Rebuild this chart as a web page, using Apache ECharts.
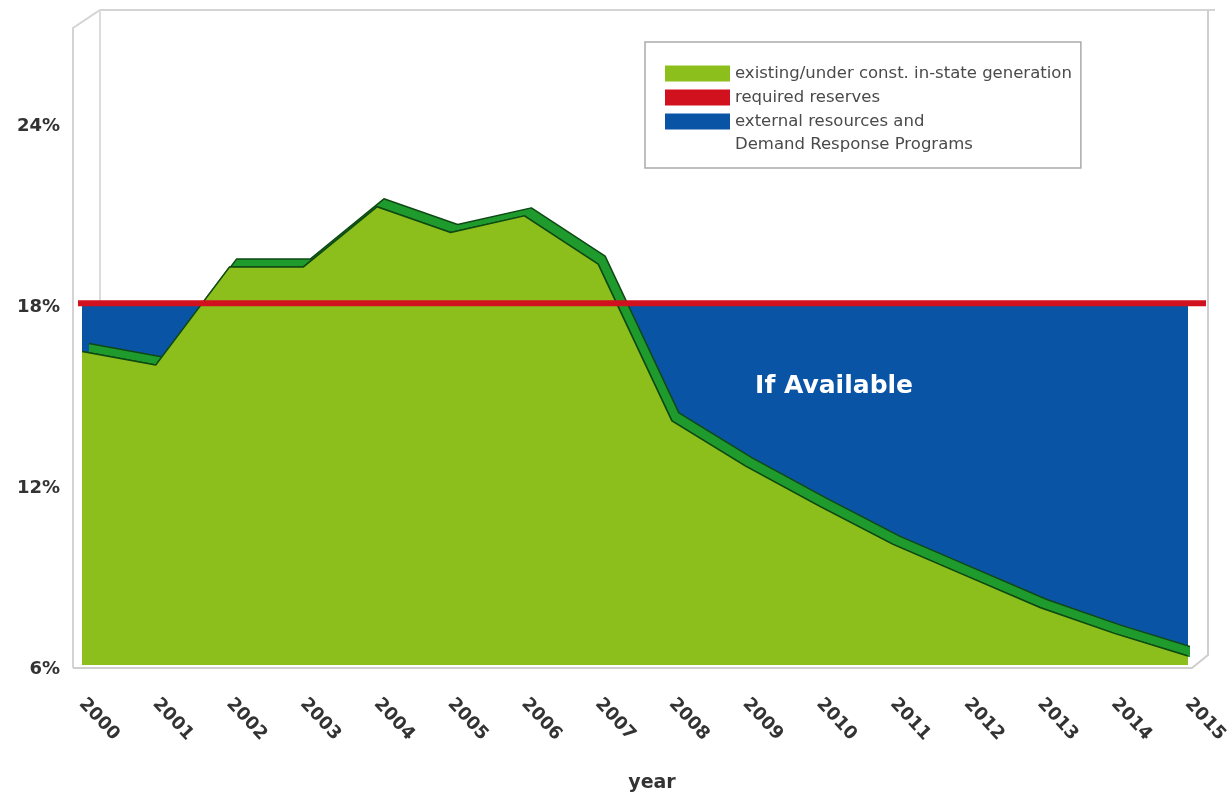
<!DOCTYPE html>
<html>
<head>
<meta charset="utf-8">
<title>Reserve margin outlook</title>
<script src="https://cdn.jsdelivr.net/npm/echarts@6/dist/echarts.min.js"></script>
<style>
  html, body { margin: 0; padding: 0; background: #ffffff; }
  #chart { width: 1232px; height: 796px; }
</style>
</head>
<body>
<div id="chart"></div>
<script>
// Years on the horizontal axis
const years = [2000, 2001, 2002, 2003, 2004, 2005, 2006, 2007, 2008, 2009, 2010, 2011, 2012, 2013, 2014, 2015];
// Existing / under construction in-state generation, reserve margin in %
const generation = [16.4, 15.95, 19.2, 19.2, 21.2, 20.35, 20.9, 19.3, 14.1, 12.6, 11.27, 10.0, 8.95, 7.9, 7.05, 6.3];
// Required reserve margin, %
const reserves = [18, 18, 18, 18, 18, 18, 18, 18, 18, 18, 18, 18, 18, 18, 18, 18];
// Y-axis ticks
const yTicks = [6, 12, 18, 24];

const NAME_GEN = 'existing/under const. in-state generation';
const NAME_RES = 'required reserves';
const NAME_EXT = 'external resources and Demand Response Programs';
const EXT_LINES = ['external resources and', 'Demand Response Programs'];

const FONT = 'DejaVu Sans';
const GREEN = '#8cbf1b';
const GREEN_TOP = '#1f9a2d';
const GREEN_EDGE = '#0f4a14';
const BLUE = '#0a54a6';
const RED = '#d2111f';
const LEGEND_TEXT = '#4a4a4a';
const AXIS_TEXT = '#333333';

const pairs = (vals) => years.map((y, i) => [y, vals[i]]);

const chart = echarts.init(document.getElementById('chart'), null, { renderer: 'canvas' });

const yAxisBase = {
  type: 'value',
  min: yTicks[0],
  max: 27,
  interval: 6,
  splitLine: { show: false },
  axisLine: { show: false },
  axisTick: { show: false }
};

const option = {
  backgroundColor: '#ffffff',
  animation: false,
  graphic: [
    // light 3-D walls framing the plot
    {
      type: 'polyline', z: 0, silent: true,
      shape: { points: [[73, 668], [73, 28], [100, 10], [1215, 10]] },
      style: { stroke: '#d4d4d4', lineWidth: 2, fill: null }
    },
    {
      type: 'line', z: 0, silent: true,
      shape: { x1: 100, y1: 10, x2: 100, y2: 660 },
      style: { stroke: '#dcdcdc', lineWidth: 2 }
    },
    {
      type: 'polyline', z: 0, silent: true,
      shape: { points: [[1208, 10], [1208, 655], [1192, 668], [73, 668]] },
      style: { stroke: '#cfcfcf', lineWidth: 2, fill: null }
    },
    // second line of the last legend entry
    {
      type: 'text', z: 10, silent: true,
      x: 735, y: 145,
      style: {
        text: EXT_LINES[1],
        font: '16.5px "' + FONT + '"',
        fill: LEGEND_TEXT,
        verticalAlign: 'middle'
      }
    }
  ],
  legend: {
    left: 645,
    top: 42,
    orient: 'vertical',
    selectedMode: false,
    icon: 'rect',
    itemWidth: 65,
    itemHeight: 16,
    itemGap: 7,
    padding: [23, 9, 38, 20],
    borderColor: '#aaaaaa',
    borderWidth: 1.5,
    backgroundColor: '#ffffff',
    textStyle: { fontFamily: FONT, fontSize: 16.5, color: LEGEND_TEXT, lineHeight: 16 },
    formatter: (name) => (name === NAME_EXT ? EXT_LINES[0] : name),
    data: [
      { name: NAME_GEN, itemStyle: { color: GREEN } },
      { name: NAME_RES, itemStyle: { color: RED } },
      { name: NAME_EXT, itemStyle: { color: BLUE } }
    ]
  },
  grid: [
    { left: 82, right: 44, top: 32, bottom: 131, containLabel: false, outerBoundsMode: 'none' },
    { left: 78, right: 26, top: 32, bottom: 131, containLabel: false, outerBoundsMode: 'none' }
  ],
  xAxis: [
    {
      type: 'value',
      gridIndex: 0,
      min: years[0],
      max: years[years.length - 1],
      interval: 1,
      name: 'year',
      nameLocation: 'middle',
      nameGap: 109,
      nameTextStyle: {
        fontFamily: FONT, fontSize: 19, fontWeight: 'bold', color: AXIS_TEXT,
        padding: [0, 0, 0, 34]
      },
      splitLine: { show: false },
      axisLine: { show: false },
      axisTick: { show: false },
      axisLabel: {
        rotate: -47,
        margin: 36,
        fontFamily: FONT,
        fontSize: 18,
        fontWeight: 'bold',
        color: AXIS_TEXT,
        formatter: (v) => String(v)
      }
    },
    {
      type: 'value',
      gridIndex: 1,
      min: years[0],
      max: years[years.length - 1],
      show: false
    }
  ],
  yAxis: [
    Object.assign({}, yAxisBase, {
      gridIndex: 0,
      axisLabel: {
        showMaxLabel: false,
        margin: 22,
        formatter: (v) => '{v|' + v + '%}',
        rich: {
          v: {
            fontFamily: FONT,
            fontSize: 18,
            fontWeight: 'bold',
            color: AXIS_TEXT,
            padding: [8, 0, 0, 0]
          }
        }
      }
    }),
    Object.assign({}, yAxisBase, { gridIndex: 1, show: false })
  ],
  series: [
    {
      // capacity that must come from outside the state, up to the reserve requirement
      name: NAME_EXT,
      type: 'line',
      xAxisIndex: 0, yAxisIndex: 0,
      z: 1,
      data: pairs(reserves),
      showSymbol: false,
      itemStyle: { color: BLUE },
      lineStyle: { width: 0, color: BLUE },
      areaStyle: { color: BLUE, opacity: 1 },
      markPoint: {
        symbol: 'rect',
        symbolSize: 1,
        itemStyle: { color: 'rgba(0,0,0,0)' },
        label: {
          show: true,
          position: 'inside',
          formatter: 'If Available',
          fontFamily: FONT,
          fontSize: 25,
          fontWeight: 'bold',
          color: '#ffffff'
        },
        data: [{ coord: [2010.2, 15.25] }]
      }
    },
    {
      // depth face of the generation area (drawn as an offset shadow)
      name: 'generation depth',
      type: 'line',
      xAxisIndex: 0, yAxisIndex: 0,
      z: 2,
      data: pairs(generation),
      showSymbol: false,
      itemStyle: { color: GREEN_TOP },
      lineStyle: {
        color: GREEN_EDGE, width: 1.5,
        shadowColor: GREEN_EDGE, shadowBlur: 0, shadowOffsetX: 7, shadowOffsetY: -8
      },
      areaStyle: {
        color: GREEN_TOP, opacity: 1,
        shadowColor: GREEN_TOP, shadowBlur: 0, shadowOffsetX: 7, shadowOffsetY: -8
      }
    },
    {
      name: NAME_GEN,
      type: 'line',
      xAxisIndex: 0, yAxisIndex: 0,
      z: 3,
      data: pairs(generation),
      showSymbol: false,
      itemStyle: { color: GREEN },
      lineStyle: { color: GREEN_EDGE, width: 1.5 },
      areaStyle: { color: GREEN, opacity: 1 }
    },
    {
      name: NAME_RES,
      type: 'line',
      xAxisIndex: 1, yAxisIndex: 1,
      z: 4,
      data: pairs(reserves),
      showSymbol: false,
      itemStyle: { color: RED },
      lineStyle: { color: RED, width: 6 }
    }
  ]
};

chart.setOption(option);
</script>
</body>
</html>
